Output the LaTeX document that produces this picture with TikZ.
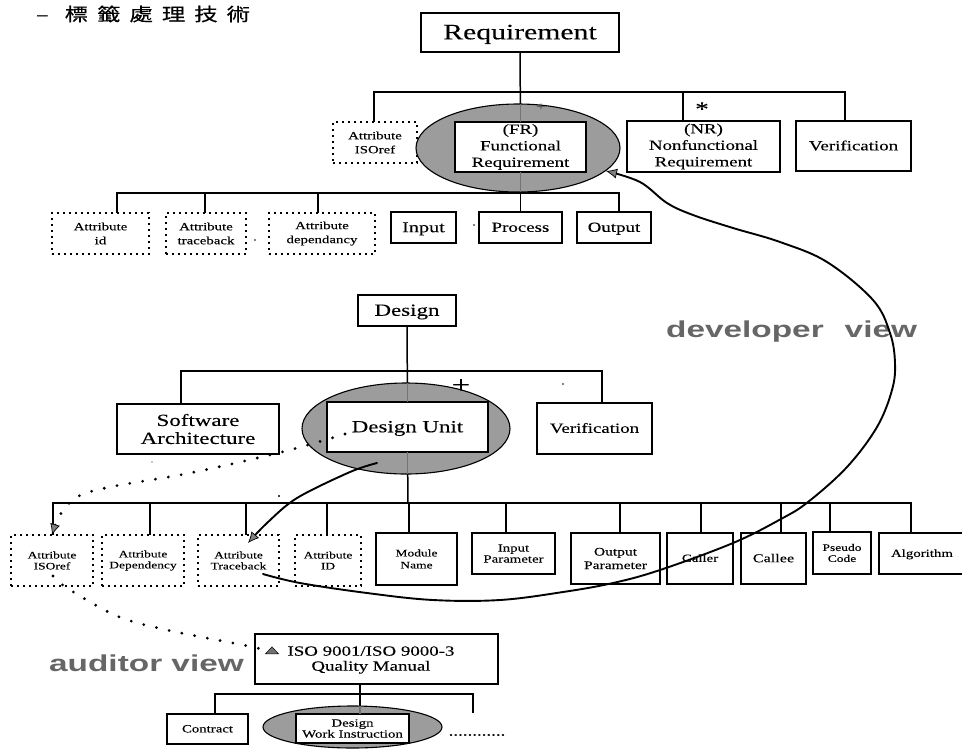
\documentclass[tikz,border=0pt]{standalone}
\usepackage{fontspec}
\setmainfont[FakeStretch=1.35,FakeBold=0.12]{Liberation Serif}
\newfontfamily\cjkfont[FakeStretch=1.3,FakeBold=0.4]{Noto Sans CJK TC}
\newfontfamily\viewfont[FakeStretch=1.45]{Liberation Sans}
\usetikzlibrary{shapes.geometric,arrows.meta,calc}
\pgfdeclarelayer{back}
\pgfsetlayers{back,main}
\newcommand\fs[2]{\fontsize{#1}{#2}\selectfont}
\newcommand\bx[7]{\node[#1,minimum width={(#5-#3)*1pt},minimum height={(#6-#4)*1pt}] (#2) at ({(#3+#5)/2},{(#4+#6)/2}) {#7};}
\newcommand\stub[3]{\draw[link] ([xshift=#2pt]#1.north) |- (#3);}
\definecolor{blobgray}{HTML}{9C9C9C}
\definecolor{viewgray}{HTML}{666666}
\tikzset{
  plainbox/.style={draw=black,line width=1.3pt,fill=white,inner sep=0pt,outer sep=0pt,align=center},
  oneline/.style={text height=#1,text depth=0pt},
  dotbox/.style={draw=black,line width=1.5pt,dash pattern=on 1.6pt off 4.4pt,fill=white,inner sep=0pt,outer sep=0pt,align=center},
  blob/.style={ellipse,draw=black,line width=1.1pt,fill=blobgray,inner sep=0pt,outer sep=0pt},
  link/.style={draw=black,line width=1.5pt},
  faint/.style={draw=black!55,line width=1.1pt},
  solidcurve/.style={draw=black,line width=1.9pt,line cap=round},
  dotcurve/.style={draw=black,line width=3.1pt,line cap=round,dash pattern=on 0pt off 13pt},
  graytip/.style={-{Latex[length=11pt,width=10pt,fill=black!50,line width=.7pt]}},
  viewlabel/.style={inner sep=0pt,text=viewgray,font={\viewfont\bfseries\fs{23}{25}}},
  baretext/.style={inner sep=0pt},
}
\begin{document}
\begin{tikzpicture}[x=1pt,y=-1pt]
\useasboundingbox (0,0) rectangle (962,748);
% title
\node[baretext,anchor=west,font={\cjkfont\fs{18}{20}}] (title) at (36,14) {–\hspace{16pt}標\hspace{9pt}籤\hspace{9pt}處\hspace{9pt}理\hspace{9pt}技\hspace{9pt}術};
% requirement group
\bx{plainbox,oneline=13.6pt,font={\fs{22}{24}}}{req}{421}{13}{619}{52}{Requirement}
\bx{dotbox,font={\fs{11}{14}}}{attr}{333}{122}{417}{163}{Attribute\\ISOref}
\bx{blob}{fre}{416}{104}{620}{192}{}
\bx{plainbox,font={\fs{14}{16.5}}}{fr}{455}{122}{586}{172}{(FR)\\Functional\\Requirement}
\bx{plainbox,font={\fs{14}{16.5}}}{nr}{627}{121}{780}{172}{(NR)\\Nonfunctional\\Requirement}
\bx{plainbox,oneline=8.7pt,font={\fs{14}{16}}}{verR}{796}{121}{911}{171}{Verification}
\bx{dotbox,font={\fs{11}{14}}}{idR}{52}{213}{149}{254}{Attribute\\id}
\bx{dotbox,font={\fs{11}{14}}}{traR}{166}{213}{246}{254}{Attribute\\traceback}
\bx{dotbox,font={\fs{11}{14}}}{depR}{269}{213}{375}{254}{Attribute\\dependancy}
\bx{plainbox,oneline=9.3pt,font={\fs{15}{16}}}{inR}{391}{212}{456}{243}{Input}
\bx{plainbox,oneline=8.7pt,font={\fs{14}{16}}}{proc}{479}{212}{562}{243}{Process}
\bx{plainbox,oneline=8.7pt,font={\fs{14}{16}}}{outR}{577}{212}{651}{243}{Output}
\node[baretext,font={\fs{20}{20}}] (star) at (702,109) {*};
\node[baretext,text=black!70,font={\fs{12}{12}}] (plusR) at (541,107) {+};
\coordinate (busA) at (520,92);
\coordinate (busB) at (520,193);
% design group
\bx{plainbox,oneline=10.5pt,font={\fs{17}{18}}}{des}{358}{295}{456}{326}{Design}
\bx{plainbox,font={\fs{17}{18}}}{swa}{117}{404}{279}{454}{Software\\Architecture}
\bx{blob}{due}{302}{383}{510}{474}{}
\bx{plainbox,oneline=10.5pt,font={\fs{17}{18}}}{du}{327}{402}{488}{452}{Design Unit}
\bx{plainbox,oneline=8.7pt,font={\fs{14}{16}}}{verD}{537}{403}{652}{454}{Verification}
\node[baretext,font={\fs{24}{24}}] (plusD) at (461,386) {+};
\coordinate (busC) at (408,371);
\coordinate (busD) at (408,503);
\bx{dotbox,font={\fs{10}{11}}}{isoA}{11}{535}{93}{586}{Attribute\\ISOref}
\bx{dotbox,font={\fs{10}{11}}}{depA}{102}{535}{184}{586}{Attribute\\Dependency}
\bx{dotbox,font={\fs{10}{11}}}{traA}{198}{535}{279}{586}{Attribute\\Traceback}
\bx{dotbox,font={\fs{10}{11}}}{idA}{295}{535}{361}{586}{Attribute\\ID}
\bx{plainbox,font={\fs{10}{12}}}{mod}{376}{533}{457}{585}{Module\\Name}
\bx{plainbox,font={\fs{11}{11}}}{inp}{472}{533}{555}{574}{Input\\Parameter}
\bx{plainbox,font={\fs{11.5}{13.5}}}{oup}{571}{533}{660}{584}{Output\\Parameter}
\bx{plainbox,oneline=6.8pt,font={\fs{11}{12}}}{cal}{667}{533}{733}{584}{Caller}
\bx{plainbox,oneline=7.4pt,font={\fs{12}{13}}}{cle}{741}{533}{806}{584}{Callee}
\bx{plainbox,font={\fs{10}{11}}}{pse}{813}{532}{871}{574}{Pseudo\\Code}
\bx{plainbox,oneline=6.8pt,font={\fs{11}{12}}}{alg}{879}{533}{968}{574}{\hspace{-3pt}Algorithm}
% ISO group
\bx{plainbox}{iso}{255}{634}{498}{684}{}
\node[baretext,align=center,font={\fs{14}{15}}] (isoT) at (371,660) {ISO 9001/ISO 9000-3\\Quality Manual};
\node[isosceles triangle,isosceles triangle stretches,shape border rotate=90,draw=black,line width=.5pt,fill=black!55,minimum width=13pt,minimum height=7pt,inner sep=0pt] (tri) at (272,651) {};
\bx{plainbox,oneline=6.8pt,font={\fs{11}{12}}}{con}{167}{714}{248}{744}{Contract}
\bx{blob}{wke}{263}{706}{442}{748}{}
\bx{plainbox,font={\fs{11}{11}}}{wi}{296}{714}{409}{743}{Design\\Work Instruction}
\node[baretext,font={\fs{14}{14}}] (more) at (477,735) {............};
\coordinate (busE) at (360,694);
\coordinate (moreEnd) at (473,713);
% view labels
\node[viewlabel,anchor=west] (devL) at (666,332) {developer\hspace{21pt}view};
\node[viewlabel,anchor=west] (audL) at (49,663) {auditor view};
% tree connectors under the shapes
\begin{pgfonlayer}{back}
\draw[link] (req.south) -- (fr.north);
\stub{attr}{-1}{busA}
\stub{nr}{-20.5}{busA}
\stub{verR}{-8.5}{busA}
\draw[link] (fr.south) -- (proc.north);
\stub{idR}{16.5}{busB}
\stub{traR}{-1}{busB}
\stub{depR}{-4}{busB}
\stub{outR}{5}{busB}
\draw[link] (des.south) -- (du.north);
\stub{swa}{-17}{busC}
\stub{verD}{7.5}{busC}
\draw[link] (du.south) -- (busD);
\stub{isoA}{1}{busD}
\stub{depA}{7}{busD}
\stub{traA}{7.5}{busD}
\stub{idA}{-1}{busD}
\stub{mod}{-7.5}{busD}
\stub{inp}{-7.5}{busD}
\stub{oup}{4.5}{busD}
\stub{cal}{1}{busD}
\stub{cle}{7.5}{busD}
\stub{pse}{-12}{busD}
\stub{alg}{-12.5}{busD}
\draw[link] ([xshift=-16.5pt]iso.south) -- (busE);
\draw[link] (busE) -- (busE |- wi.north);
\stub{con}{7.5}{busE}
\draw[link] (moreEnd) |- (busE);
\end{pgfonlayer}
% trunks seen through the shaded ellipses
\draw[faint] (fr.north |- fre.north) -- (fr.north);
\draw[faint] (fr.south) -- (fr.south |- fre.south);
\draw[faint] (du.north |- due.north) -- (du.north);
\draw[faint] (du.south) -- (du.south |- due.south);
\draw[faint] (busE |- wke.north) -- (busE |- wi.north);
% developer view curve
\coordinate (dv0) at (263,574);
\coordinate (dv1) at (300,583);
\coordinate (dv2) at (367,593);
\coordinate (dv3) at (433,600);
\coordinate (dv4) at (500,600);
\coordinate (dv5) at (563,592);
\coordinate (dv6) at (613,583);
\coordinate (dv7) at (660,570);
\coordinate (dv8) at (733,543);
\coordinate (dv9) at (781,519);
\coordinate (dv10) at (808,502);
\coordinate (dv11) at (847,467);
\coordinate (dv12) at (877,427);
\coordinate (dv13) at (892,390);
\coordinate (dv14) at (895,363);
\coordinate (dv15) at (890,333);
\coordinate (dv16) at (873,300);
\coordinate (dv17) at (827,262);
\coordinate (dv18) at (780,242);
\coordinate (dv19) at (733,228);
\coordinate (dv20) at (693,215);
\coordinate (dv21) at (667,203);
\coordinate (dv22) at (640,182);
\coordinate (dv23) at (606,171);
\draw[solidcurve,graytip] plot[smooth,tension=.6] coordinates {(dv0)(dv1)(dv2)(dv3)(dv4)(dv5)(dv6)(dv7)(dv8)(dv9)(dv10)(dv11)(dv12)(dv13)(dv14)(dv15)(dv16)(dv17)(dv18)(dv19)(dv20)(dv21)(dv22)(dv23)};
% design unit to traceback
\coordinate (ds0) at (377,463);
\coordinate (ds1) at (350,472);
\coordinate (ds2) at (297,498);
\coordinate (ds3) at (267,523);
\coordinate (ds4) at (248,543);
\draw[solidcurve,graytip] plot[smooth,tension=.55] coordinates {(ds0)(ds1)(ds2)(ds3)(ds4)};
% dotted links
\coordinate (du0) at (345,434);
\coordinate (du1) at (282,452);
\coordinate (du2) at (190,473);
\coordinate (du3) at (110,487);
\coordinate (du4) at (77,497);
\coordinate (du5) at (60,515);
\coordinate (du6) at (52,535);
\draw[dotcurve,graytip] plot[smooth,tension=.55] coordinates {(du0)(du1)(du2)(du3)(du4)(du5)(du6)};
\coordinate (au0) at (53,576);
\coordinate (au1) at (67,588);
\coordinate (au2) at (117,616);
\coordinate (au3) at (167,630);
\coordinate (au4) at (248,646);
\draw[dotcurve] plot[smooth,tension=.55] coordinates {(au0)(au1)(au2)(au3)(au4)(tri.west)};
% specks
\fill (474,225) circle (.9pt) (255,240) circle (.9pt) (279,496) circle (1.2pt) (563,384) circle (.9pt) (152,462) circle (.6pt);
\end{tikzpicture}
\end{document}
